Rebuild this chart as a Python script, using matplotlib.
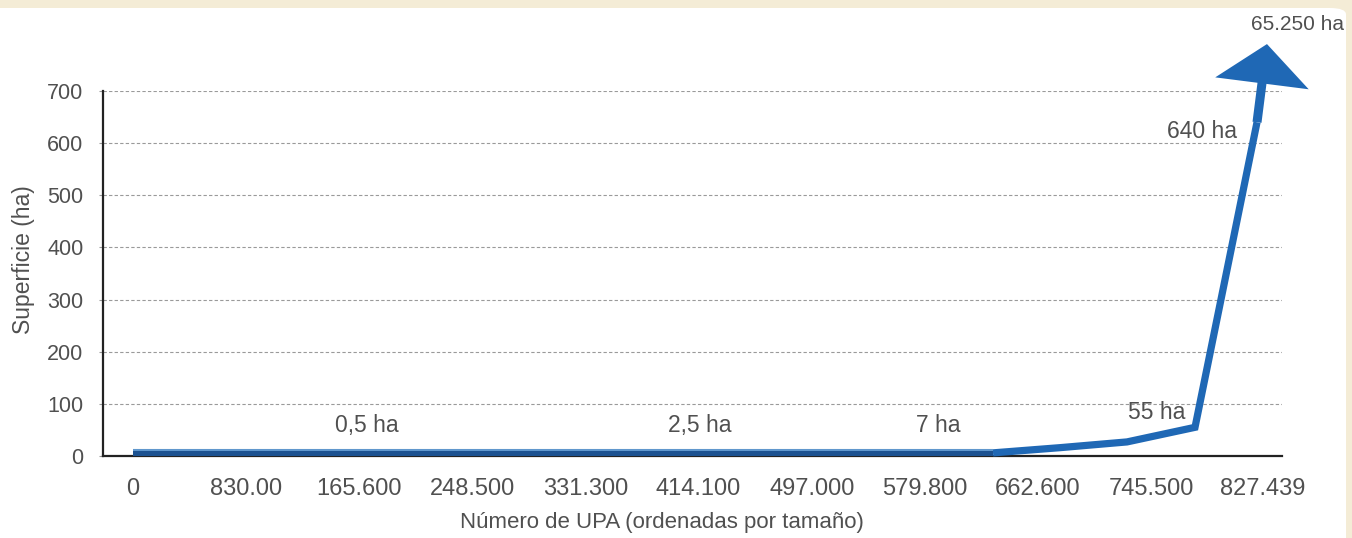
import matplotlib
matplotlib.use("Agg")
import matplotlib.pyplot as plt
from matplotlib.patches import FancyArrowPatch, FancyBboxPatch
import matplotlib.transforms as mtransforms

# ---- data ----
upa = [0, 629700, 678800, 727800, 777600, 823000]          # Número de UPA
superficie = [6, 6, 16, 27, 55, 640]                       # Superficie (ha)
arrow_tip = (830300, 790)                                  # continues off-scale (65.250 ha)

xtick_values = [0, 83000, 165600, 248500, 331300, 414100, 497000, 579800, 662600, 745500, 827439]
xtick_labels = ["0", "830.00", "165.600", "248.500", "331.300", "414.100",
                "497.000", "579.800", "662.600", "745.500", "827.439"]
ytick_values = [0, 100, 200, 300, 400, 500, 600, 700]

label_texts = ["0,5 ha", "2,5 ha", "7 ha", "55 ha", "640 ha", "65.250 ha"]
label_x = [171500, 415200, 589400, 749800, 782700, 853000]
label_y = [58, 58, 58, 83, 622, 827]
label_sizes = [16.5, 16.5, 16.5, 16.5, 16.5, 15]

# ---- style ----
plt.rcParams['font.family'] = ['Liberation Sans', 'DejaVu Sans']
txt_color = '#505050'
blue = '#1f68b5'
dark_blue = '#1b5190'

W, H = 1352, 538
fig = plt.figure(figsize=(W / 100, H / 100), dpi=100, facecolor='#f4ecd6')
bg = FancyBboxPatch((-20 / W, -20 / H), (1346 + 20) / W, (530 + 20) / H,
                    boxstyle="round,pad=0,rounding_size=0.012",
                    transform=fig.transFigure, facecolor='white', edgecolor='none', zorder=-10)
fig.patches.append(bg)

ax = fig.add_axes([103 / W, (H - 456) / H, (1282 - 103) / W, (456 - 91) / H])
ax.set_zorder(5)
ax.set_facecolor('none')
ax.set_xlim(-21967, 841300)
ax.set_ylim(0, 700)

for s in ['top', 'right']:
    ax.spines[s].set_visible(False)
for s in ['left', 'bottom']:
    ax.spines[s].set_linewidth(1.6)
    ax.spines[s].set_color('#222222')

ax.set_yticks(ytick_values)
ax.set_xticks(xtick_values)
ax.set_xticklabels(xtick_labels)
ax.tick_params(axis='x', length=0, pad=15.5, labelsize=17, labelcolor=txt_color)
ax.tick_params(axis='y', length=3, width=0.8, color='#999999', pad=11, labelsize=15.5,
               labelcolor=txt_color)

for yv in ytick_values[1:]:
    ax.axhline(yv, color='#9a9a9a', lw=0.8, ls=(0, (3, 2)), zorder=1)

ax.set_xlabel("Número de UPA (ordenadas por tamaño)", fontsize=16, color=txt_color,
              labelpad=9, x=(662 - 103) / (1282 - 103))
ax.set_ylabel("Superficie (ha)", fontsize=16.5, color=txt_color, labelpad=9,
              y=(456 - 260) / (456 - 91))

# rising line
ax.plot(upa[1:], superficie[1:], color=blue, lw=5.2, solid_joinstyle='miter',
        solid_capstyle='butt', zorder=3, clip_on=False)
# flat ribbon (darker, with light top edge)
ax.plot(upa[:2], superficie[:2], color=dark_blue, lw=5.8, solid_capstyle='butt', zorder=4)
hl = mtransforms.offset_copy(ax.transData, fig=fig, x=0, y=2.3, units='points')
ax.plot(upa[:2], superficie[:2], color='#6fa6da', lw=1.2, solid_capstyle='butt',
        zorder=5, transform=hl)

arrow = FancyArrowPatch(posA=(upa[-1], superficie[-1]), posB=arrow_tip,
                        arrowstyle='-|>,head_length=21,head_width=25',
                        mutation_scale=1, lw=6.5, color=blue, shrinkA=0, shrinkB=0,
                        joinstyle='miter', capstyle='butt',
                        transform=ax.transData, clip_on=False, zorder=3)
ax.add_patch(arrow)

for t, xv, yv, sz in zip(label_texts, label_x, label_y, label_sizes):
    ax.text(xv, yv, t, fontsize=sz, color=txt_color, ha='center', va='center',
            clip_on=False, zorder=6)

fig.savefig("out.png", dpi=100, facecolor=fig.get_facecolor())
